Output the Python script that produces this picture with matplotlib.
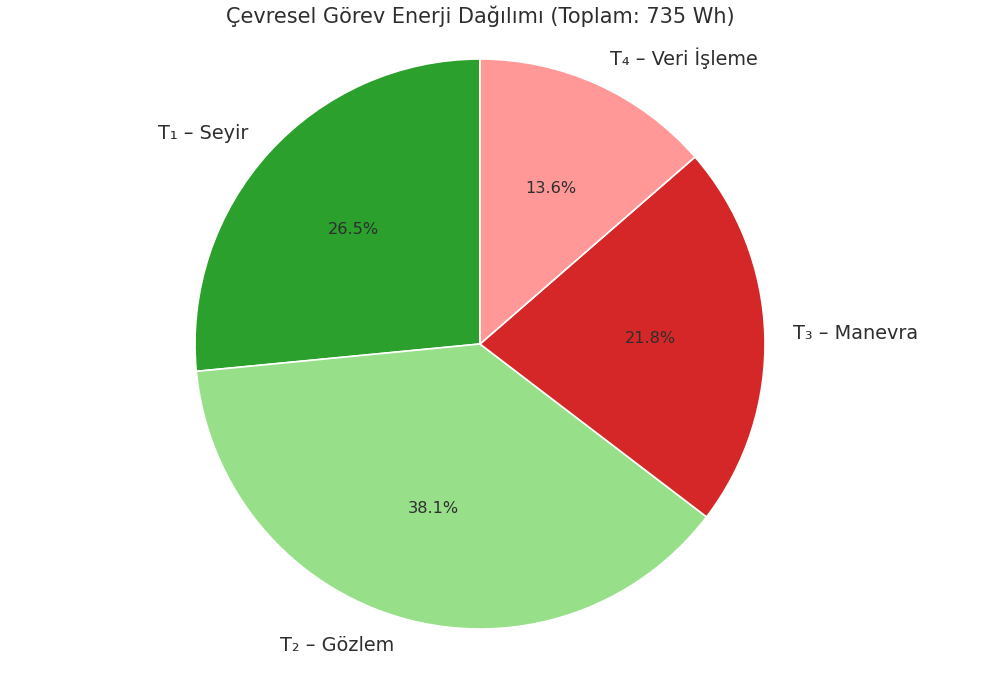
import matplotlib
matplotlib.use("Agg")
import matplotlib.pyplot as plt

labels = ["T₁ – Seyir", "T₂ – Gözlem", "T₃ – Manevra", "T₄ – Veri İşleme"]
energy_wh = [195, 280, 160, 100]
colors = ["#2ca02c", "#98df8a", "#d62728", "#ff9896"]
title = "Çevresel Görev Enerji Dağılımı (Toplam: 735 Wh)"

W, H = 986, 673
cx, cy, R = 480, 344, 285  # pixel layout

fig = plt.figure(figsize=(W / 100, H / 100), dpi=100)
ax = fig.add_axes([0, 0, 1, 1])
wedges, texts, autotexts = ax.pie(
    energy_wh, labels=labels, colors=colors, startangle=90, counterclock=True,
    autopct="%1.1f%%", pctdistance=0.6, labeldistance=1.1,
    wedgeprops=dict(edgecolor="white", linewidth=1.2),
    textprops=dict(color="#2e2e2e"),
)
for t in texts:
    t.set_fontsize(13.9)
for t in autotexts:
    t.set_fontsize(11.6)
ax.set_xlim(-cx / R, (W - cx) / R)
ax.set_ylim(-(H - cy) / R, cy / R)
ax.set_aspect("auto")
ax.axis("off")
fig.text(cx / W, 1 - 16 / H, title, ha="center", va="center", fontsize=15, color="#2e2e2e")
fig.savefig("out.png", dpi=100, facecolor="white")
